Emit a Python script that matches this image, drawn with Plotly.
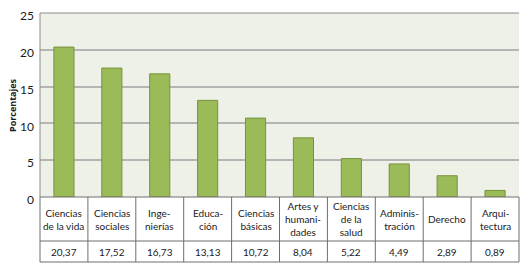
import plotly.graph_objects as go

categories = ["Ciencias<br>de la vida", "Ciencias<br>sociales", "Inge-<br>nierías", "Educa-<br>ción",
              "Ciencias<br>básicas", "Artes y<br>humani-<br>dades", "Ciencias<br>de la<br>salud",
              "Adminis-<br>tración", "Derecho", "Arqui-<br>tectura"]
values = [20.37, 17.52, 16.73, 13.13, 10.72, 8.04, 5.22, 4.49, 2.89, 0.89]
value_labels = ["20,37", "17,52", "16,73", "13,13", "10,72", "8,04", "5,22", "4,49", "2,89", "0,89"]
y_ticks = [0, 5, 10, 15, 20, 25]

W, H = 524, 266
ML, MR, MT, MB = 40, 5, 13, 69
plot_h = H - MT - MB
row1_px = 44   # height of label row
row2_px = 21   # height of value row

FONT = "Lato"
n = len(categories)
x = list(range(n))

fig = go.Figure()
fig.add_trace(go.Bar(
    x=x, y=values,
    marker=dict(color="#9BBB59", line=dict(color="#76923C", width=1)),
    width=0.42, hoverinfo="skip",
))

shapes = []
line_col = "#6E6E6E"
y_sep = -row1_px / plot_h
y_bot = -(row1_px + row2_px) / plot_h
for yy in [0, y_sep, y_bot]:
    shapes.append(dict(type="line", xref="paper", yref="paper", x0=0, x1=1, y0=yy, y1=yy,
                       line=dict(color=line_col, width=1)))
for i in range(n + 1):
    xp = i / n
    shapes.append(dict(type="line", xref="paper", yref="paper", x0=xp, x1=xp, y0=0, y1=y_bot,
                       line=dict(color=line_col, width=1)))
shapes.append(dict(type="line", xref="paper", yref="paper", x0=0, x1=0, y0=0, y1=1,
                   line=dict(color="#8C8C8C", width=1)))
shapes.append(dict(type="line", xref="paper", yref="paper", x0=0, x1=1, y0=1, y1=1,
                   line=dict(color="#8C8C8C", width=1)))

annotations = []
for i, (c, v) in enumerate(zip(categories, value_labels)):
    annotations.append(dict(x=i, xref="x", y=y_sep / 2, yref="paper", text=c, showarrow=False,
                            xanchor="center", yanchor="middle",
                            font=dict(family=FONT, size=10, color="#1A1A1A")))
    annotations.append(dict(x=i, xref="x", y=(y_sep + y_bot) / 2, yref="paper", text=v,
                            showarrow=False, xanchor="center", yanchor="middle",
                            font=dict(family=FONT, size=10, color="#1A1A1A")))
annotations.append(dict(x=-(ML - 12) / (W - ML - MR), xref="paper", y=0.5, yref="paper",
                        text="<b>Porcentajes</b>", textangle=-90, showarrow=False,
                        xanchor="center", yanchor="middle",
                        font=dict(family="Open Sans", size=9, color="#1A1A1A")))

fig.update_layout(
    width=W, height=H,
    margin=dict(l=ML, r=MR, t=MT, b=MB, pad=0),
    paper_bgcolor="white", plot_bgcolor="#EEF1E7",
    showlegend=False,
    font=dict(family=FONT, color="#1A1A1A"),
    xaxis=dict(range=[-0.5, n - 0.5], showticklabels=False, showgrid=False, zeroline=False,
               ticks="", fixedrange=True),
    yaxis=dict(range=[0, 25], tickvals=y_ticks, ticktext=[str(t) for t in y_ticks],
               showgrid=True, gridcolor="#B5B5B5", gridwidth=2, zeroline=False,
               ticks="", ticklabelstandoff=5, ticklabelshift=3,
               tickfont=dict(family=FONT, size=12, color="#1A1A1A"), fixedrange=True),
    shapes=shapes, annotations=annotations,
)

fig.write_html("out.html")
